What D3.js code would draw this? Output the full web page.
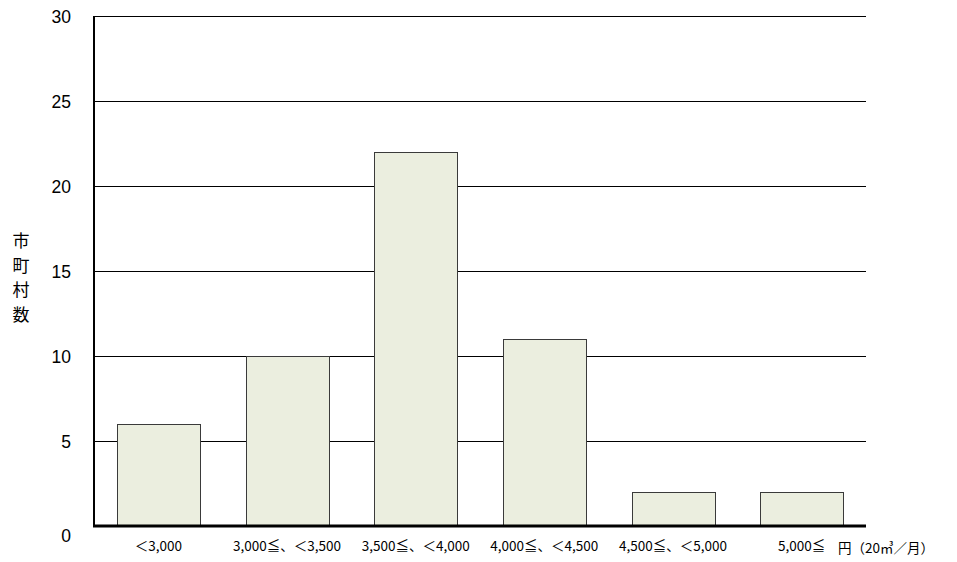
<!DOCTYPE html>
<html>
<head>
<meta charset="utf-8">
<script src="https://cdn.jsdelivr.net/npm/d3@7"></script>
<style>
  body { margin: 0; background: #fff; }
  text { font-family: "Liberation Sans", Arial, "Noto Sans CJK JP", sans-serif; }
  .cjk { font-family: "Noto Sans CJK JP", sans-serif; }
</style>
</head>
<body>
<script>
var categories = ['＜3,000', '3,000≦、＜3,500', '3,500≦、＜4,000', '4,000≦、＜4,500', '4,500≦、＜5,000', '5,000≦'];
var counts = [6, 10, 22, 11, 2, 2];
var yTicks = [0, 5, 10, 15, 20, 25, 30];

var margin = {top: 16, right: 91, bottom: 36, left: 94},
    width = 957 - margin.left - margin.right,
    height = 562 - margin.top - margin.bottom;

var svg = d3.select("body").append("svg")
    .attr("width", 957)
    .attr("height", 562);

var g = svg.append("g")
    .attr("transform", "translate(" + margin.left + "," + margin.top + ")");

var x = d3.scaleBand()
    .range([0, width])
    .domain(categories)
    .paddingInner(0.355)
    .paddingOuter(0.1775);

var y = d3.scaleLinear()
    .range([height, 0])
    .domain([0, 30]);

// gridlines
g.append("g")
    .selectAll("line")
    .data(yTicks.slice(1))
    .enter()
    .append("line")
    .attr("x1", 0)
    .attr("x2", width)
    .attr("y1", function (d) { return y(d) + 0.5; })
    .attr("y2", function (d) { return y(d) + 0.5; })
    .attr("stroke", "#000")
    .attr("stroke-width", 1);

g.selectAll(".bar")
    .data(counts)
    .enter()
    .append("rect")
    .attr("class", "bar")
    .attr("x", function (d, i) { return Math.round(x(categories[i])) + 0.5; })
    .attr("y", function (d) { return y(d) + 0.5; })
    .attr("width", Math.round(x.bandwidth()))
    .attr("height", function (d) { return height - y(d); })
    .attr("fill", "#ebeedf")
    .attr("stroke", "#3a3a3a")
    .attr("stroke-width", 1);

// axes lines
g.append("line")
    .attr("x1", 0).attr("x2", 0)
    .attr("y1", 0).attr("y2", height + 1)
    .attr("stroke", "#000").attr("stroke-width", 2);
g.append("line")
    .attr("x1", -1).attr("x2", width)
    .attr("y1", height).attr("y2", height)
    .attr("stroke", "#000").attr("stroke-width", 3);

// y tick labels
var yAxis = g.append("g")
    .call(d3.axisLeft(y).tickValues(yTicks).tickSize(0).tickPadding(23));
yAxis.select(".domain").remove();
yAxis.selectAll("text")
    .style("font-size", "17.5px")
    .style("font-family", "'Liberation Sans', Arial, sans-serif")
    .attr("dy", function (d) { return d === 0 ? "0.88em" : "0.35em"; })
    .attr("fill", "#000");

// x labels
var xAxis = g.append("g")
    .attr("transform", "translate(0," + height + ")")
    .call(d3.axisBottom(x).tickSize(0).tickPadding(15));
xAxis.select(".domain").remove();
xAxis.selectAll("text")
    .style("font-size", "13.5px")
    .attr("class", "cjk")
    .attr("fill", "#000");

// y axis title (vertical stacked)
var yTitle = ['市', '町', '村', '数'];
svg.append("g")
    .selectAll("text")
    .data(yTitle)
    .enter()
    .append("text")
    .attr("class", "cjk")
    .attr("x", 21)
    .attr("y", function (d, i) { return 247 + i * 24.5; })
    .attr("text-anchor", "middle")
    .style("font-size", "17px")
    .text(function (d) { return d; });

// unit label
svg.append("text")
    .attr("class", "cjk")
    .attr("x", 838)
    .attr("y", 553)
    .style("font-size", "13.5px")
    .text("円（20㎥／月）");
</script>
</body>
</html>
